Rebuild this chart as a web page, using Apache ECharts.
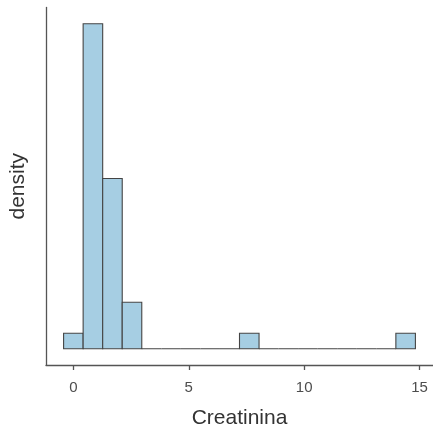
<!DOCTYPE html>
<html>
<head>
<meta charset="utf-8">
<script src="https://cdn.jsdelivr.net/npm/echarts@6/dist/echarts.min.js"></script>
<style>
html,body{margin:0;padding:0;background:#fff;}
#c{width:433px;height:434px;}
</style>
</head>
<body>
<div id="c"></div>
<script>
// Histogram of Creatinina: bin left edges, bin width, counts per bin
const binStart = -0.424;
const binWidth = 0.847;
const binCounts = [1, 21, 11, 3, 0, 0, 0, 0, 0, 1, 0, 0, 0, 0, 0, 0, 0, 1];
const xTicks = [0, 5, 10, 15];
const xName = 'Creatinina';
const yName = 'density';

const total = binCounts.reduce((a, b) => a + b, 0);
const bins = binCounts.map((c, i) => {
  const x0 = binStart + i * binWidth;
  return [x0, x0 + binWidth, c / (total * binWidth)];
});
const maxD = Math.max(...bins.map(b => b[2]));
const xMin = binStart, xMax = binStart + binCounts.length * binWidth;
const xr = xMax - xMin;

const chart = echarts.init(document.getElementById('c'), null, {renderer: 'canvas'});
const font = 'Liberation Sans, Arial, Helvetica, sans-serif';
chart.setOption({
  animation: false,
  backgroundColor: '#fff',
  grid: {left: 45, top: 7.5, width: 393, height: 362.5},
  xAxis: {
    type: 'value',
    min: xMin - 0.05 * xr,
    max: xMax + 0.05 * xr,
    splitLine: {show: false},
    axisLine: {onZero: false, lineStyle: {color: '#555', width: 1.3}},
    axisTick: {length: 5, lineStyle: {color: '#555', width: 1.3}, customValues: xTicks},
    axisLabel: {customValues: xTicks, color: '#4d4d4d', fontSize: 15, fontFamily: font, margin: 15},
    name: xName,
    nameLocation: 'middle',
    nameGap: 43,
    nameTextStyle: {color: '#333', fontSize: 21, fontFamily: font}
  },
  yAxis: {
    type: 'value',
    min: -0.05 * maxD,
    max: 1.05 * maxD,
    splitLine: {show: false},
    axisLine: {show: true, onZero: false, lineStyle: {color: '#555', width: 1.3}},
    axisTick: {show: false},
    axisLabel: {show: false},
    name: yName,
    nameLocation: 'middle',
    nameGap: 17,
    nameTextStyle: {color: '#333', fontSize: 21, fontFamily: font}
  },
  series: [{
    type: 'custom',
    data: bins,
    renderItem: function (params, api) {
      const p0 = api.coord([api.value(0), api.value(2)]);
      const p1 = api.coord([api.value(1), 0]);
      return {
        type: 'rect',
        shape: {x: p0[0], y: p0[1], width: p1[0] - p0[0], height: p1[1] - p0[1]},
        style: {fill: '#a6cee3', stroke: '#444', lineWidth: 1.1}
      };
    }
  }]
});
</script>
</body>
</html>
